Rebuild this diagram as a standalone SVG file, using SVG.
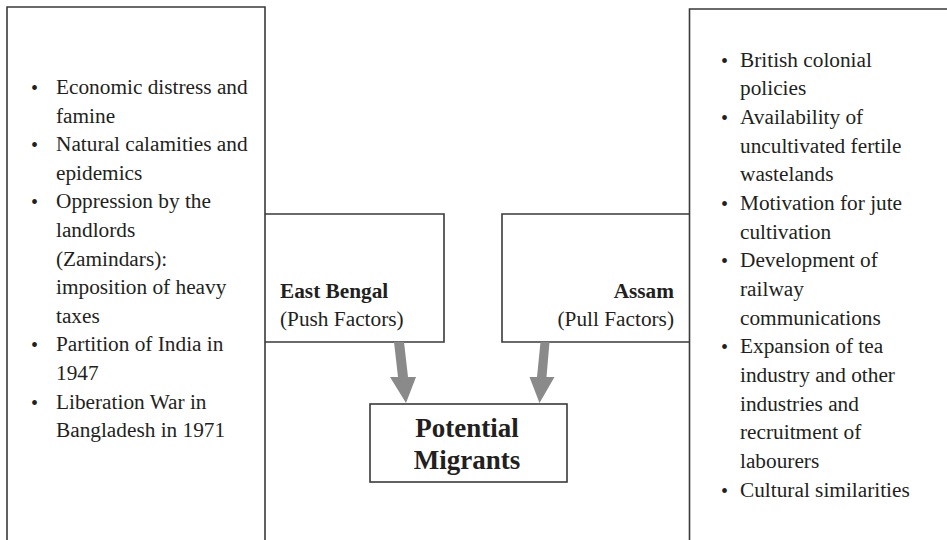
<svg xmlns="http://www.w3.org/2000/svg" width="947" height="540" viewBox="0 0 947 540">
<style>
.box{fill:none;stroke:#3a3a3a;stroke-width:1.6}
.t{font-family:"Liberation Serif","Times New Roman",serif;font-size:21.3px;fill:#231f20}
.b{font-weight:bold}
.bul{font-family:"Liberation Serif","Times New Roman",serif;font-size:20px;fill:#231f20}
.big{font-family:"Liberation Serif","Times New Roman",serif;font-size:27px;font-weight:bold;fill:#231f20;text-anchor:middle}
.arr{fill:#8a8a8a}
</style>
<rect width="947" height="540" fill="#ffffff"/>
<g id="push-list">
<path class="box" d="M7,545 V7 H265 V545"/>
<text class="bul" x="31" y="95">•</text>
<text class="t" x="56" y="94">Economic distress and</text>
<text class="t" x="56" y="122.6">famine</text>
<text class="bul" x="31" y="152.2">•</text>
<text class="t" x="56" y="151.2">Natural calamities and</text>
<text class="t" x="56" y="179.8">epidemics</text>
<text class="bul" x="31" y="209.4">•</text>
<text class="t" x="56" y="208.4">Oppression by the</text>
<text class="t" x="56" y="237">landlords</text>
<text class="t" x="56" y="265.6">(Zamindars):</text>
<text class="t" x="56" y="294.2">imposition of heavy</text>
<text class="t" x="56" y="322.8">taxes</text>
<text class="bul" x="31" y="352.4">•</text>
<text class="t" x="56" y="351.4">Partition of India in</text>
<text class="t" x="56" y="380">1947</text>
<text class="bul" x="31" y="409.6">•</text>
<text class="t" x="56" y="408.6">Liberation War in</text>
<text class="t" x="56" y="437.2">Bangladesh in 1971</text>
</g>
<g id="pull-list">
<path class="box" d="M689.5,545 V9 H952"/>
<text class="bul" x="721" y="67.7">•</text>
<text class="t" x="740" y="66.7">British colonial</text>
<text class="t" x="740" y="95.4">policies</text>
<text class="bul" x="721" y="125">•</text>
<text class="t" x="740" y="124">Availability of</text>
<text class="t" x="740" y="152.7">uncultivated fertile</text>
<text class="t" x="740" y="181.4">wastelands</text>
<text class="bul" x="721" y="211">•</text>
<text class="t" x="740" y="210">Motivation for jute</text>
<text class="t" x="740" y="238.7">cultivation</text>
<text class="bul" x="721" y="268.4">•</text>
<text class="t" x="740" y="267.4">Development of</text>
<text class="t" x="740" y="296">railway</text>
<text class="t" x="740" y="324.7">communications</text>
<text class="bul" x="721" y="354.4">•</text>
<text class="t" x="740" y="353.4">Expansion of tea</text>
<text class="t" x="740" y="382">industry and other</text>
<text class="t" x="740" y="410.7">industries and</text>
<text class="t" x="740" y="439.4">recruitment of</text>
<text class="t" x="740" y="468">labourers</text>
<text class="bul" x="721" y="497.7">•</text>
<text class="t" x="740" y="496.7">Cultural similarities</text>
</g>
<g id="east-bengal">
<path class="box" d="M265,214 H444 V342 H265"/>
<text class="t b" x="280" y="298">East Bengal</text>
<text class="t" x="280" y="326">(Push Factors)</text>
</g>
<g id="assam">
<path class="box" d="M689.5,214 H502 V342 H689.5"/>
<text class="t b" x="674" y="298" text-anchor="end">Assam</text>
<text class="t" x="674" y="326" text-anchor="end">(Pull Factors)</text>
</g>
<g id="potential-migrants">
<rect class="box" x="370" y="404" width="197" height="78"/>
<text class="big" x="467" y="437">Potential</text>
<text class="big" x="467" y="469">Migrants</text>
</g>
<g id="connectors">
<polygon class="arr" points="394,342 404,342 408,377 416,377 406,403 390,377 398,377"/>
<polygon class="arr" points="540.5,342 549.5,342 546.5,377 554.5,377 539.5,403 529.5,377 537,377"/>
</g>
</svg>
